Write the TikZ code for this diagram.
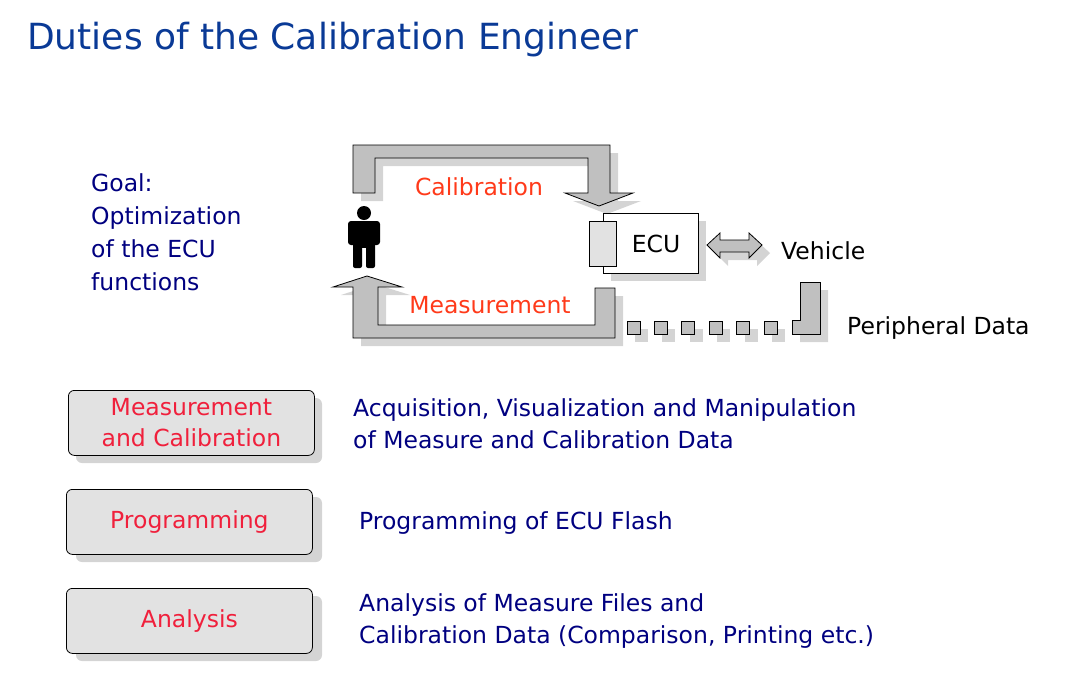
\documentclass[tikz,border=0pt]{standalone}
\usepackage{fontspec}
\setmainfont{DejaVu Sans}
\usetikzlibrary{positioning}
\definecolor{titleblue}{HTML}{0A3A96}
\definecolor{navy}{HTML}{000080}
\definecolor{loopred}{HTML}{FF3A1A}
\definecolor{boxred}{HTML}{F0203C}
\definecolor{arrowgray}{HTML}{C0C0C0}
\definecolor{shadowgray}{HTML}{D4D4D4}
\definecolor{boxgray}{HTML}{E2E2E2}

\begin{document}
\begin{tikzpicture}[x=1pt, y=-1pt,
    txt/.style={font=\fontsize{23.5}{29}\selectfont, inner sep=0pt},
    duty/.style={draw, thick, rounded corners=6pt, fill=boxgray, minimum width=246pt, minimum height=65pt, anchor=north west, text=boxred, align=center, font=\fontsize{23.5}{31}\selectfont},
    block/.style={fill=arrowgray, draw, thick}]
    \useasboundingbox (0,0) rectangle (1069,675);

    % Title
    \node[anchor=west, text=titleblue, font=\fontsize{36}{42}\selectfont, inner sep=0pt] (title) at (27,40) {Duties of the Calibration Engineer};

    % Goal
    \node[txt, anchor=north west, text=navy, align=left, font=\fontsize{23.5}{33}\selectfont] (goal) at (91,173) {Goal:\\Optimization\\of the ECU\\functions};

    % Loop arrows
    \def\calib{(353,145) -- (610,145) -- (610,193) -- (633,193) -- (599,206) -- (565,193) -- (588,193) -- (588,158) -- (375,158) -- (375,193) -- (353,193) -- cycle}
    \def\meas{(353,338) -- (615,338) -- (615,288) -- (595,288) -- (595,325) -- (378,325) -- (378,287) -- (402,287) -- (367,276) -- (333,287) -- (353,287) -- cycle}
    \def\link{(792,334) -- (820,334) -- (820,282) -- (800,282) -- (800,320) -- (792,320) -- cycle}
    \def\dbl{(707,245) -- (720,233) -- (720,240) -- (749,240) -- (749,233) -- (762,245) -- (749,258) -- (749,252) -- (720,252) -- (720,258) -- cycle}
    \begin{scope}[shift={(8,8)}]
      \fill[shadowgray] \calib;
      \fill[shadowgray] \meas;
      \fill[shadowgray] \link;
      \fill[shadowgray] \dbl;
      \fill[shadowgray] (603,213) rectangle (698,273);
      \foreach \i in {0,...,5}
        \fill[shadowgray] (627+27.4*\i,321) rectangle ++(13,13);
    \end{scope}
    \path[block] \calib;
    \path[block] \meas;
    \path[block] \link;
    \path[block] \dbl;
    \foreach \i in {0,...,5}
      \draw[block] (627+27.4*\i,321) rectangle ++(13,13);

    % ECU
    \node[draw, thick, fill=white, minimum width=95pt, minimum height=60pt, anchor=north west, inner sep=0pt] (ecu) at (603,213) {};
    \node[txt] (ecutext) at (656,244) {ECU};
    \draw[thick, fill=boxgray] (589,221) rectangle (616,266);

    \node[txt, anchor=west] (vehicle) at (781,251) {Vehicle};
    \node[txt, anchor=west] (periph) at (847,328) {Peripheral Data};
    \node[txt, text=loopred] (callabel) at (479,187) {Calibration};
    \node[txt, text=loopred] (measlabel) at (490,305) {Measurement};

    % Person
    \fill (364,213) circle (7);
    \fill[rounded corners=3pt] (348,221) rectangle (380,245);
    \fill (353,235) rectangle (375,248);
    \fill[rounded corners=2pt] (353,240) rectangle (362,268);
    \fill[rounded corners=2pt] (366,240) rectangle (375,268);

    % Duties
    \foreach \y in {390, 489, 588}
      \fill[shadowgray, rounded corners=6pt] (76,\y+8) rectangle ++(246,65);
    \node[duty] (mc) at (68,390) {Measurement\\and Calibration};
    \node[duty] (prog) at (66,489) {Programming};
    \node[duty] (ana) at (66,588) {Analysis};

    \node[txt, anchor=west, text=navy, align=left, font=\fontsize{23.5}{32}\selectfont] (mcdesc) at (353,424) {Acquisition, Visualization and Manipulation\\of Measure and Calibration Data};
    \node[txt, anchor=west, text=navy] (progdesc) at (359,523) {Programming of ECU Flash};
    \node[txt, anchor=west, text=navy, align=left, font=\fontsize{23.5}{32}\selectfont] (anadesc) at (359,621) {Analysis of Measure Files and\\Calibration Data (Comparison, Printing etc.)};
\end{tikzpicture}
\end{document}
